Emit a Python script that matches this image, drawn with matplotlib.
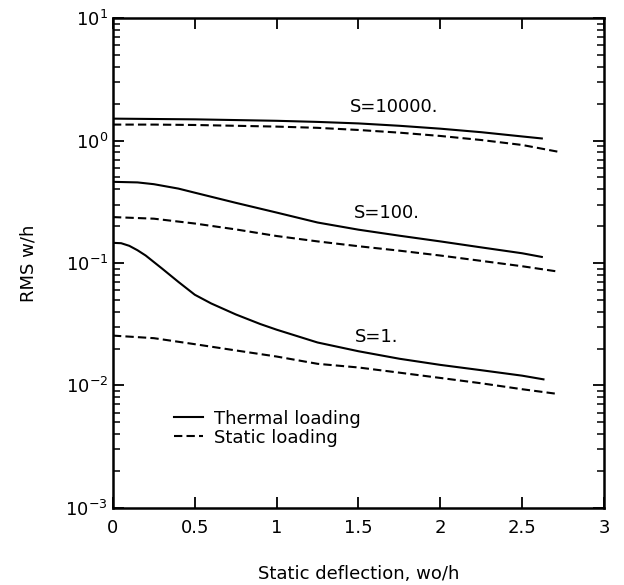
import matplotlib
matplotlib.use("Agg")
import matplotlib.pyplot as plt
from matplotlib.ticker import LogLocator

# Thermal loading (solid) and static loading (dashed) curves for three S values
x_s10000_th = [0, 0.25, 0.5, 0.75, 1.0, 1.25, 1.5, 1.75, 2.0, 2.25, 2.5, 2.62]
y_s10000_th = [1.51, 1.50, 1.49, 1.47, 1.45, 1.42, 1.38, 1.32, 1.25, 1.17, 1.08, 1.04]
x_s10000_st = [0, 0.25, 0.5, 0.75, 1.0, 1.25, 1.5, 1.75, 2.0, 2.25, 2.5, 2.72]
y_s10000_st = [1.35, 1.35, 1.34, 1.32, 1.30, 1.27, 1.22, 1.16, 1.09, 1.01, 0.92, 0.81]

x_s100_th = [0, 0.15, 0.25, 0.4, 0.5, 0.75, 1.0, 1.25, 1.5, 1.75, 2.0, 2.25, 2.5, 2.62]
y_s100_th = [0.46, 0.455, 0.44, 0.405, 0.375, 0.31, 0.258, 0.214, 0.187, 0.167,
             0.150, 0.134, 0.120, 0.112]
x_s100_st = [0, 0.25, 0.5, 0.75, 1.0, 1.25, 1.5, 1.75, 2.0, 2.25, 2.5, 2.72]
y_s100_st = [0.237, 0.230, 0.210, 0.188, 0.166, 0.150, 0.137, 0.126, 0.115, 0.104, 0.094, 0.085]

x_s1_th = [0, 0.05, 0.1, 0.15, 0.2, 0.3, 0.4, 0.5, 0.6, 0.75, 0.9, 1.0, 1.25, 1.5,
           1.75, 2.0, 2.25, 2.5, 2.63]
y_s1_th = [0.146, 0.145, 0.138, 0.127, 0.115, 0.09, 0.07, 0.055, 0.0467, 0.038,
           0.0317, 0.0285, 0.0224, 0.019, 0.0165, 0.0147, 0.0133, 0.0120, 0.0112]
x_s1_st = [0, 0.25, 0.5, 0.75, 1.0, 1.25, 1.5, 1.75, 2.0, 2.25, 2.5, 2.72]
y_s1_st = [0.0255, 0.0243, 0.0217, 0.0193, 0.0172, 0.0150, 0.0140, 0.0127, 0.0115,
           0.0104, 0.0093, 0.0085]

labels = ["S=10000.", "S=100.", "S=1."]
label_x = [1.45, 1.47, 1.48]
label_y = [1.88, 0.258, 0.0247]

x_ticks = [0, 0.5, 1, 1.5, 2, 2.5, 3]
x_ticklabels = ["0", "0.5", "1", "1.5", "2", "2.5", "3"]
y_ticks = [1e-3, 1e-2, 1e-1, 1e0, 1e1]
y_ticklabels = [r"$10^{-3}$", r"$10^{-2}$", r"$10^{-1}$", r"$10^{0}$", r"$10^{1}$"]

plt.rcParams["font.family"] = "DejaVu Sans"
fig = plt.figure(figsize=(6.24, 5.85), dpi=100)
ax = fig.add_axes([0.181, 0.132, 0.787, 0.837])

lw = 1.5
th, = ax.plot(x_s10000_th, y_s10000_th, color="black", lw=lw)
st, = ax.plot(x_s10000_st, y_s10000_st, color="black", lw=lw, dashes=(4, 2))
ax.plot(x_s100_th, y_s100_th, color="black", lw=lw)
ax.plot(x_s100_st, y_s100_st, color="black", lw=lw, dashes=(4, 2))
ax.plot(x_s1_th, y_s1_th, color="black", lw=lw)
ax.plot(x_s1_st, y_s1_st, color="black", lw=lw, dashes=(4, 2))

for t, tx, ty in zip(labels, label_x, label_y):
    ax.text(tx, ty, t, fontsize=13, va="center", ha="left")

ax.set_yscale("log")
ax.set_xlim(0, 3)
ax.set_ylim(1e-3, 1e1)
ax.set_xticks(x_ticks, x_ticklabels)
ax.set_yticks(y_ticks, y_ticklabels)
ax.yaxis.set_minor_locator(LogLocator(base=10, subs=range(2, 10)))
ax.yaxis.set_minor_formatter(plt.NullFormatter())

ax.tick_params(which="both", direction="in", top=True, right=True, labelsize=13)
ax.tick_params(which="major", length=8, width=1.3)
ax.tick_params(which="minor", length=5, width=1.1)
ax.tick_params(axis="x", pad=8)
for sp in ax.spines.values():
    sp.set_linewidth(1.8)

ax.set_xlabel("Static deflection, wo/h", fontsize=13, labelpad=20)
ax.set_ylabel("RMS w/h", fontsize=13, labelpad=20)

ax.legend([th, st], ["Thermal loading", "Static loading"], frameon=False,
          fontsize=13, handlelength=1.6, handletextpad=0.6, labelspacing=0.05,
          loc="upper left", bbox_to_anchor=(0.11, 0.215), borderaxespad=0)

fig.savefig("out.png", dpi=100)
